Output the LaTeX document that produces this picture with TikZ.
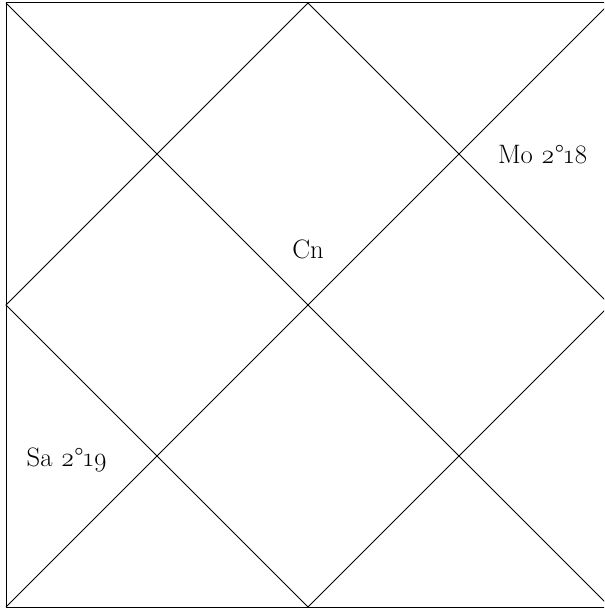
\documentclass[tikz,border=0pt]{standalone}
\usepackage{fontspec}
\setmainfont{Latin Modern Roman}[Numbers=OldStyle]
\usepackage{tikz}
\tikzstyle{corner} = [coordinate]
\tikzstyle{planet} = [inner sep=0pt, font=\fontsize{20}{24}\selectfont]
\tikzstyle{chartline} = [draw, line width=0.75pt]

\begin{document}
\begin{tikzpicture}[x=0.75pt, y=-0.75pt]
    \useasboundingbox (0,0) rectangle (604,610);
    \clip (0,0) rectangle (604,610);
    % Corners and midpoints of the chart
    \node [corner] (tl) at (6,3) {};
    \node [corner] (tr) at (610,3) {};
    \node [corner] (br) at (610,607) {};
    \node [corner] (bl) at (6,607) {};
    \node [corner] (top) at (308,3) {};
    \node [corner] (right) at (610,305) {};
    \node [corner] (bottom) at (308,607) {};
    \node [corner] (left) at (6,305) {};

    % Drawing lines
    \draw [chartline] (tl) -- (tr) -- (br) -- (bl) -- cycle;
    \draw [chartline] (tl) -- (br);
    \draw [chartline] (tr) -- (bl);
    \draw [chartline] (top) -- (right) -- (bottom) -- (left) -- cycle;

    % Planets
    \node [planet] (Mo) at (543,155) {Mo 2°18};
    \node [planet] (Cn) at (308,249) {Cn};
    \node [planet] (Sa) at (67,460) {Sa 2°19};
\end{tikzpicture}
\end{document}
